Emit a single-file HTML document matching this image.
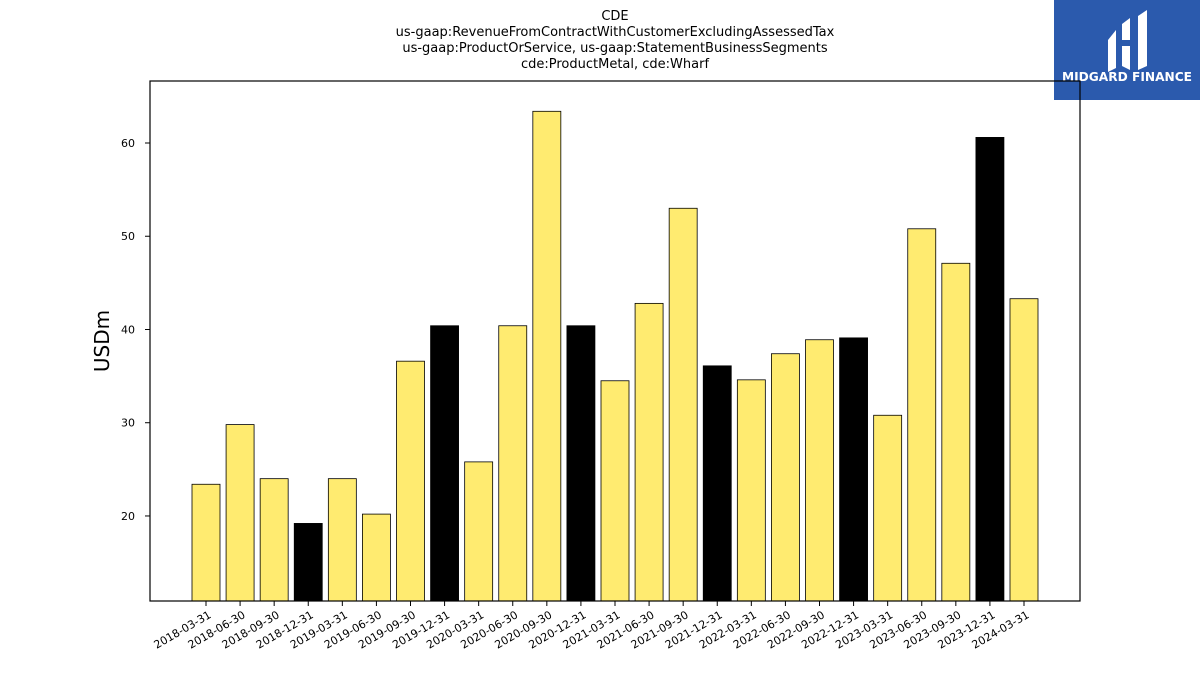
<!DOCTYPE html>
<html><head><meta charset="utf-8"><style>
body{margin:0;background:#fff;width:1200px;height:675px;overflow:hidden;font-family:"DejaVu Sans","Liberation Sans",sans-serif}
svg text{font-family:"DejaVu Sans","Liberation Sans",sans-serif}
</style></head><body>
<svg id="c" width="1200" height="675" xmlns="http://www.w3.org/2000/svg">
<g font-size="13" text-anchor="middle" fill="#000">
<text x="615" y="20">CDE</text>
<text x="615" y="36">us-gaap:RevenueFromContractWithCustomerExcludingAssessedTax</text>
<text x="615" y="52">us-gaap:ProductOrService, us-gaap:StatementBusinessSegments</text>
<text x="615" y="68">cde:ProductMetal, cde:Wharf</text>
</g>
<g>
<rect x="1054" y="0" width="146" height="100" fill="#2b5aad"/>
<path d="M1108 40 L1116 30 L1116 68 L1108 72 Z" fill="#fff"/>
<path d="M1122 24 L1130 18 L1130 40 L1122 40 Z M1122 46 L1130 46 L1130 70 L1122 66 Z" fill="#fff"/>
<path d="M1138 16 L1147 10 L1147 66 L1138 70 Z" fill="#fff"/>
<text x="1062" y="81" font-size="12" font-weight="bold" fill="#fff" textLength="130" lengthAdjust="spacingAndGlyphs">MIDGARD FINANCE</text>
</g>
<g id="bars"></g>
<rect x="150" y="81" width="930" height="520" fill="none" stroke="#000" stroke-width="1.2"/>
<g id="yaxis"></g>
<g id="xaxis"></g>
<text x="0" y="0" transform="translate(109,341) rotate(-90)" font-size="20" text-anchor="middle">USDm</text>
</svg>
<script>
const categories=["2018-03-31","2018-06-30","2018-09-30","2018-12-31","2019-03-31","2019-06-30","2019-09-30","2019-12-31","2020-03-31","2020-06-30","2020-09-30","2020-12-31","2021-03-31","2021-06-30","2021-09-30","2021-12-31","2022-03-31","2022-06-30","2022-09-30","2022-12-31","2023-03-31","2023-06-30","2023-09-30","2023-12-31","2024-03-31"];
const values=[23.4,29.8,24.0,19.2,24.0,20.2,36.6,40.4,25.8,40.4,63.4,40.4,34.5,42.8,53.0,36.1,34.6,37.4,38.9,39.1,30.8,50.8,47.1,60.6,43.3];
const yTicks=[20,30,40,50,60];
(function(){
const NS="http://www.w3.org/2000/svg";
const yMin=10.88,yMax=66.65,yTop=81,yBot=601;
const y=v=>yBot-(v-yMin)/(yMax-yMin)*(yBot-yTop);
const x=i=>206+i*(1024-206)/(categories.length-1);
function mk(t,a,p){const e=document.createElementNS(NS,t);for(const k in a)e.setAttribute(k,a[k]);p.appendChild(e);return e;}
const bars=document.getElementById('bars'),ya=document.getElementById('yaxis'),xa=document.getElementById('xaxis');
values.forEach((v,i)=>{
 const q4=categories[i].endsWith("12-31");
 const r=mk('rect',{x:x(i)-14,y:y(v),width:28,height:yBot-y(v),fill:q4?'#000':'#ffeb70',stroke:'#000','stroke-width':0.8},bars);
 
 
});
yTicks.forEach(t=>{
 mk('line',{x1:145,x2:150,y1:y(t),y2:y(t),stroke:'#000'},ya);
 const tx=mk('text',{x:135,y:y(t)+4,'font-size':11,'text-anchor':'end'},ya);tx.textContent=t;
 
 
});
categories.forEach((c,i)=>{
 mk('line',{x1:x(i),x2:x(i),y1:601,y2:606,stroke:'#000'},xa);
 const tx=mk('text',{x:0,y:0,'font-size':11,'text-anchor':'end',transform:`translate(${x(i)+6},${617}) rotate(-30)`},xa);tx.textContent=c;
 
 
});
})();
</script>
</body></html>
